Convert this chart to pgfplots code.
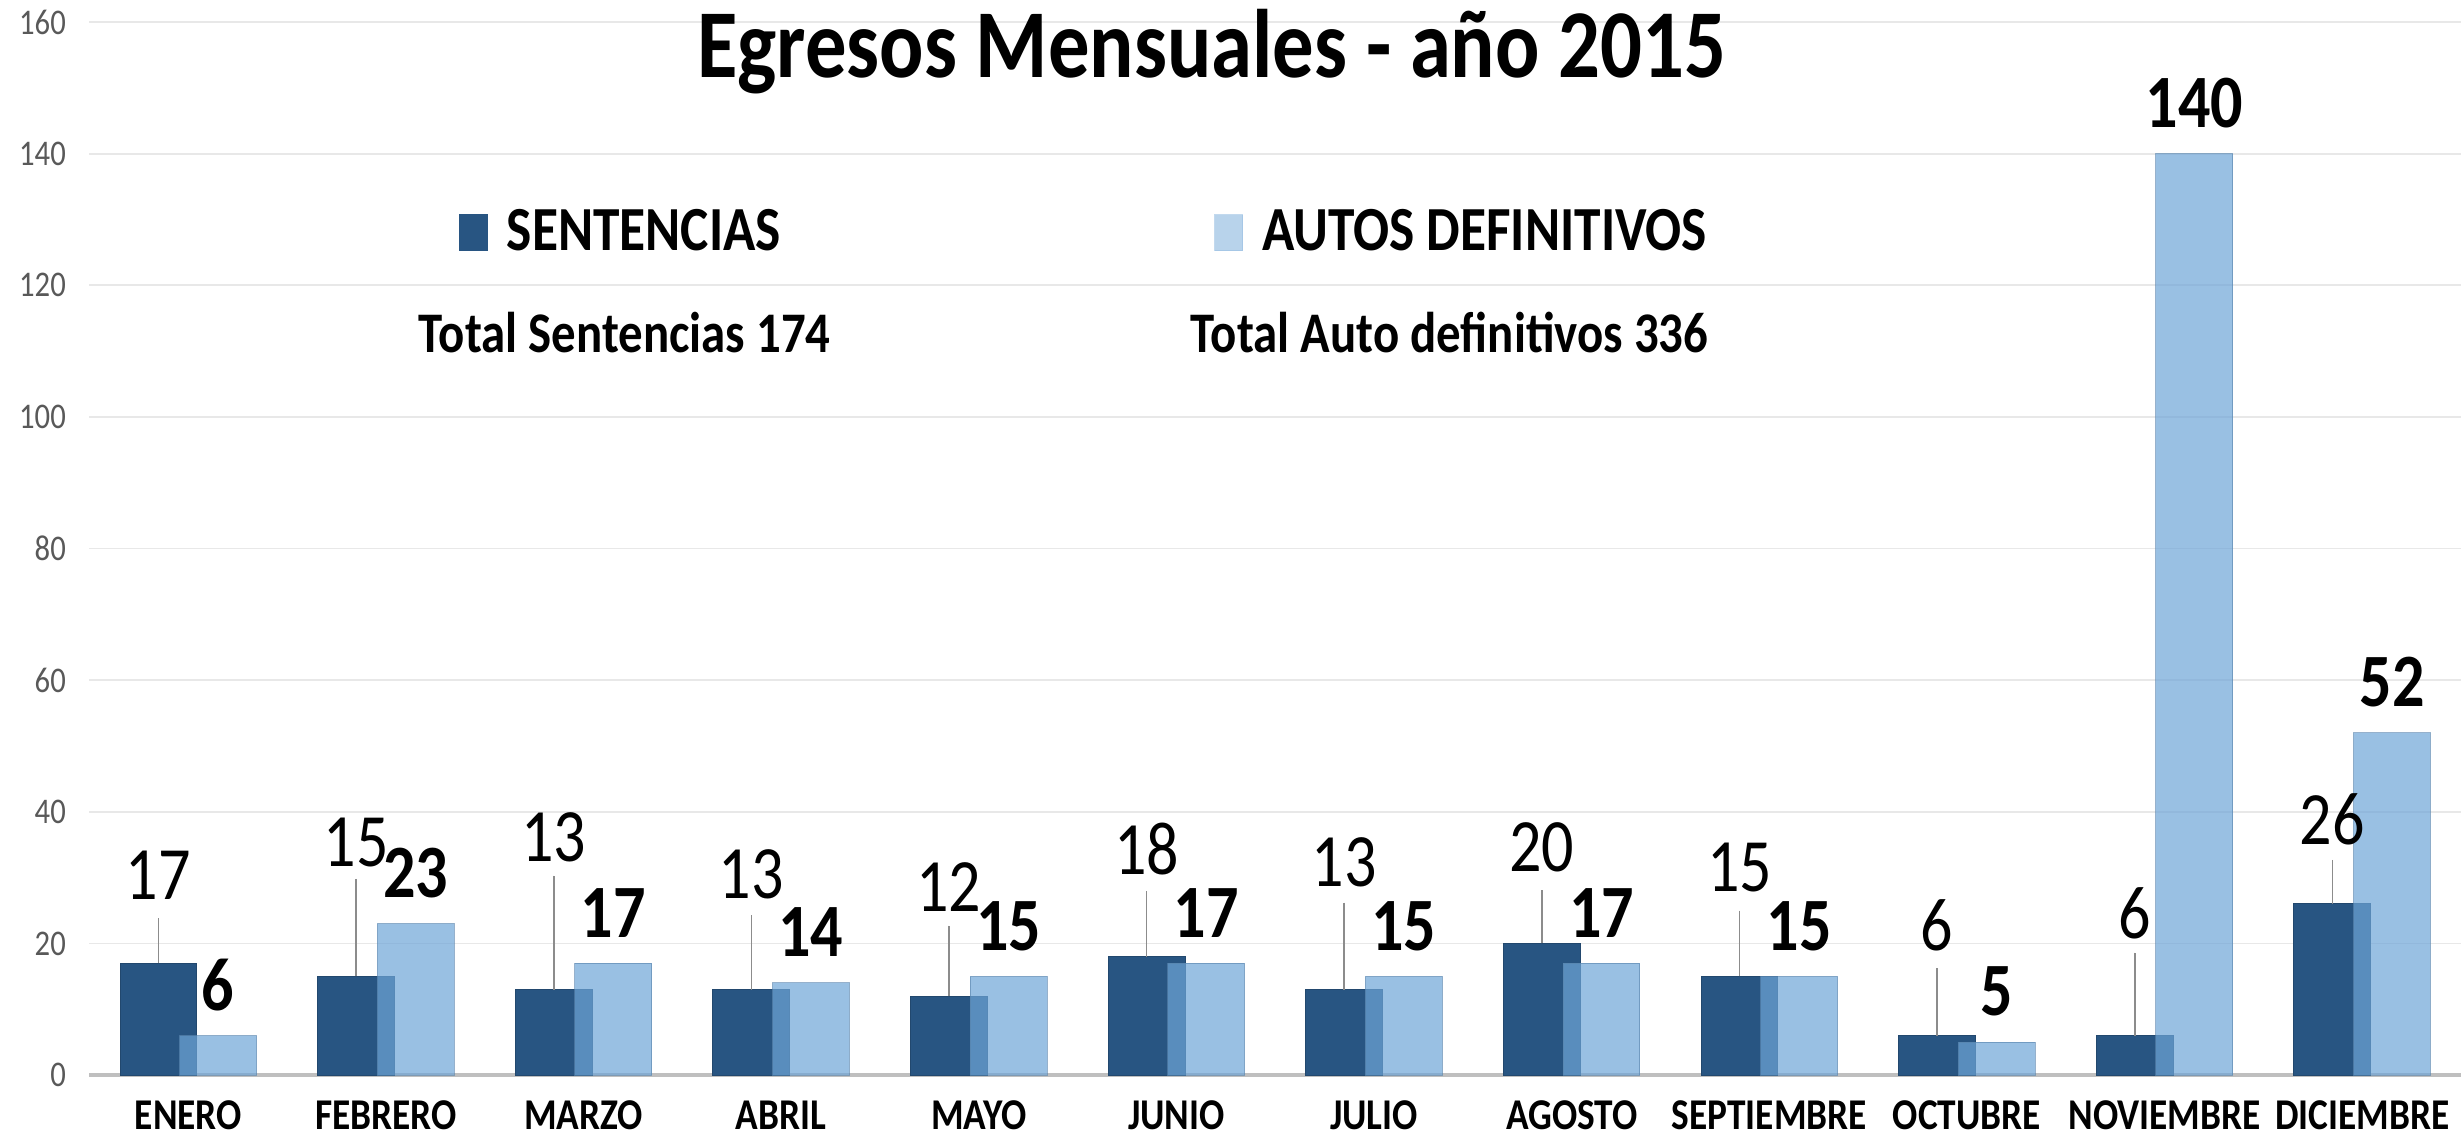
\documentclass[border=0pt]{standalone}
\usepackage{fontspec}
\setmainfont{Carlito}[FakeStretch=0.85]
\usepackage{pgfplots}
\pgfplotsset{compat=1.18}
\usepackage{pgfplotstable}

\definecolor{dark}{RGB}{40,85,130}
\definecolor{light}{RGB}{110,165,215}
\definecolor{gridc}{RGB}{232,232,232}
\definecolor{tickc}{RGB}{89,89,89}

% x, sentencias, label offset, leader length, autos definitivos
\pgfplotstableread{
x s  so   se   a
0 17 13.3 6.8  6
1 15 20.3 14.8 23
2 13 23.2 17.3 17
3 13 17.5 11.3 14
4 12 16.6 10.7 15
5 18 16.3 9.9  17
6 13 19.4 13.2 15
7 20 14.6 8.1  17
8 15 16.5 10.0 15
9 6  16.7 10.2 5
10 6 18.6 12.6 140
11 26 12.9 6.7 52
}\datatable

\begin{document}
\begin{tikzpicture}
\begin{axis}[
  scale only axis,
  width=755.5pt, height=335.5pt,
  xmin=-0.5, xmax=11.5,
  ymin=0, ymax=160,
  ytick={0,20,...,160},
  xtick={0,...,11},
  xticklabels={ENERO,FEBRERO,MARZO,ABRIL,MAYO,JUNIO,JULIO,AGOSTO,SEPTIEMBRE,OCTUBRE,NOVIEMBRE,DICIEMBRE},
  axis lines=left,
  axis line style={-},
  y axis line style={draw=none},
  x axis line style={draw=black!25, line width=1.2pt},
  major tick length=0pt,
  ymajorgrids,
  grid style={gridc, line width=0.6pt},
  /pgf/number format/assume math mode=true,
  yticklabel style={font=\fontsize{11.5}{12}\selectfont, text=tickc, xshift=-4pt},
  xticklabel style={font=\bfseries\fontsize{14}{14}\selectfont, anchor=base, yshift=-17.3pt},
  ybar, bar width=24.5pt,
  clip=false,
  legend columns=2,
  legend style={at={(rel axis cs:0.1555,0.8)}, anchor=west, draw=none, fill=none,
    inner sep=0pt, font=\bfseries\fontsize{20}{20}\selectfont,
    /tikz/every even column/.append style={column sep=136pt}},
]
\addplot[bar shift=-9.5pt, fill=dark, draw=dark!85!black, line width=0.3pt,
  legend image code/.code={\fill[dark] (0pt,-5.75pt) rectangle (9pt,5.75pt); \path (13pt,0pt);},
  error bars/.cd, y dir=plus, y explicit, error mark=none,
  error bar style={black!45, line width=0.5pt}]
  table[x=x, y=s, y error=se] {\datatable};
\addlegendentry{SENTENCIAS}
\addplot[bar shift=9.5pt, fill=light, fill opacity=0.7, draw=light!80!black, draw opacity=0.6, line width=0.3pt,
  legend image code/.code={\fill[light!70] (0pt,-5.75pt) rectangle (9pt,5.75pt); \path (13pt,0pt);},
  nodes near coords,
  every node near coord/.append style={anchor=center, yshift=16.1pt, text=black, text opacity=1, fill opacity=1,
    font=\bfseries\fontsize{24}{24}\selectfont}]
  table[x=x, y=a] {\datatable};
\addlegendentry{AUTOS DEFINITIVOS}
% value labels of the first series, placed by its own data
\addplot[bar shift=-9.5pt, draw=none, fill=none, forget plot,
  visualization depends on={\thisrow{so} \as \soff},
  nodes near coords,
  every node near coord/.append style={anchor=center, yshift={\soff*2.0969pt}, text=black,
    font=\fontsize{24}{24}\selectfont}]
  table[x=x, y=s] {\datatable};

\node[font=\bfseries\fontsize{31}{32}\selectfont] at (rel axis cs:0.4732,0.972) {Egresos Mensuales - año 2015};
\node[font=\bfseries\fontsize{18.3}{19}\selectfont] at (rel axis cs:0.2257,0.705) {Total Sentencias 174};
\node[font=\bfseries\fontsize{18.3}{19}\selectfont] at (rel axis cs:0.5735,0.705) {Total Auto definitivos 336};
\coordinate (BL) at (rel axis cs:0,0);
\coordinate (TR) at (rel axis cs:1,1);
\end{axis}
\pgfresetboundingbox
\path[use as bounding box] ([xshift=-28.5pt,yshift=-20pt]BL) rectangle ([yshift=7pt]TR);
\end{tikzpicture}
\end{document}
